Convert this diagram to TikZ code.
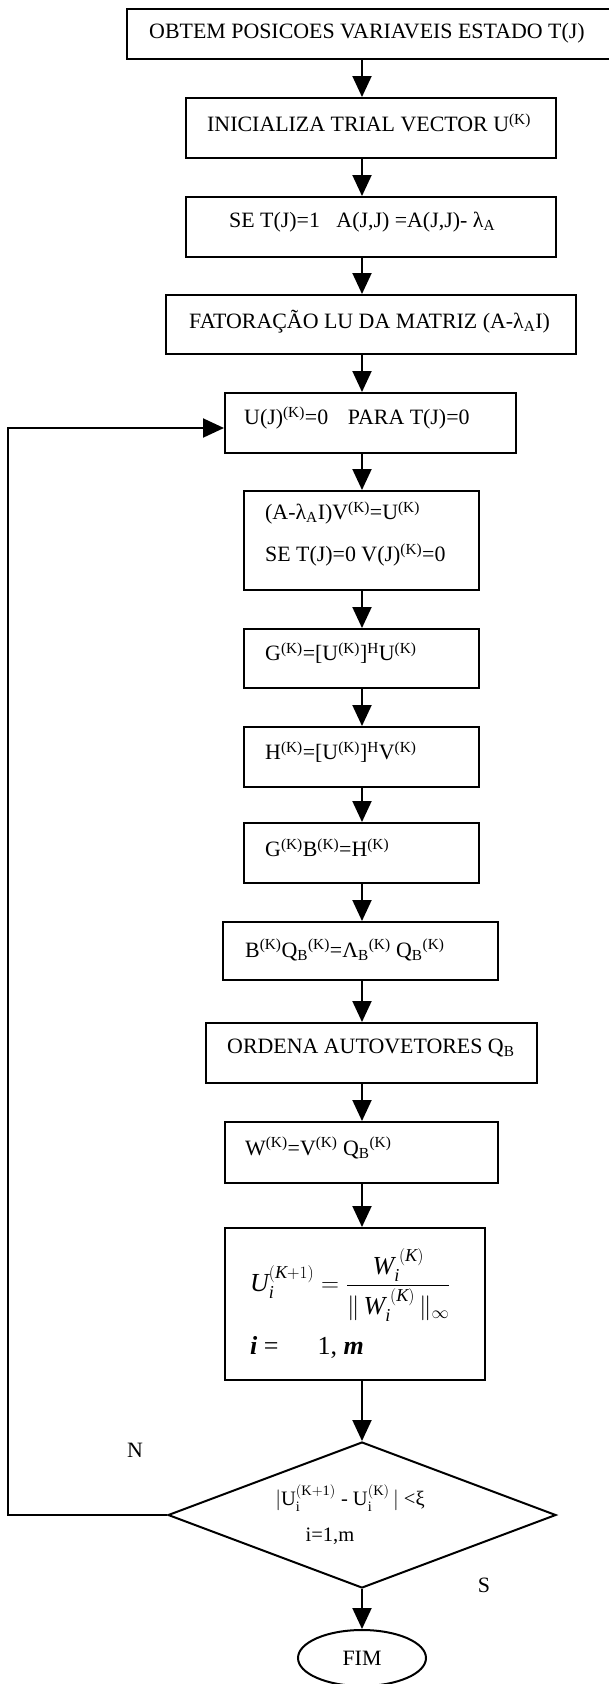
\documentclass[tikz,border=0pt]{standalone}
\usepackage{amsmath}
\usepackage{fontspec}
\setmainfont{Liberation Serif}
\usetikzlibrary{arrows.meta,shapes.geometric}
\newcommand{\Kp}{\textsuperscript{(K)}}
\begin{document}
\begin{tikzpicture}[x=1pt,y=-1pt,
  box/.style={draw,line width=2pt,rectangle,inner sep=0pt},
  lbl/.style={anchor=west,inner sep=0pt,font=\fontsize{21.9}{26}\selectfont},
  clbl/.style={inner sep=0pt,font=\fontsize{21.9}{26}\selectfont},
  arr/.style={line width=2pt,-{Triangle[length=21pt,width=19pt]}}]
\useasboundingbox (0,0) rectangle (609,1684);
\coordinate (ax) at (362,0);
% boxes
\node[box,minimum width=486pt,minimum height=50pt] (b1) at (370,34) {};
\node[box,minimum width=370pt,minimum height=60pt] (b2) at (371,128) {};
\node[box,minimum width=370pt,minimum height=60pt] (b3) at (371,227) {};
\node[box,minimum width=410pt,minimum height=59pt] (b4) at (371,324.5) {};
\node[box,minimum width=291pt,minimum height=60pt] (b5) at (370.5,423) {};
\node[box,minimum width=235pt,minimum height=99pt] (b6) at (361.5,540.5) {};
\node[box,minimum width=235pt,minimum height=59pt] (b7) at (361.5,658.5) {};
\node[box,minimum width=235pt,minimum height=60pt] (b8) at (361.5,757) {};
\node[box,minimum width=235pt,minimum height=60pt] (b9) at (361.5,853) {};
\node[box,minimum width=275pt,minimum height=58pt] (b10) at (360.5,951) {};
\node[box,minimum width=331pt,minimum height=60pt] (b11) at (371.5,1053) {};
\node[box,minimum width=273pt,minimum height=61pt] (b12) at (361.5,1152.5) {};
\node[box,minimum width=260pt,minimum height=152pt] (b13) at (355,1304) {};
\node[draw,line width=2pt,diamond,inner sep=0pt,minimum width=388pt,minimum height=146pt] (d) at (362,1515) {};
\node[draw,line width=2pt,ellipse,inner sep=0pt,minimum width=128pt,minimum height=56pt,font=\fontsize{21.9}{26}\selectfont] (fim) at (362,1658) {FIM};
% texts
\node[lbl] (t1) at (149,33) {OBTEM POSICOES VARIAVEIS ESTADO T(J)};
\node[lbl] (t2) at (207,123) {INICIALIZA TRIAL VECTOR U\Kp};
\node[lbl] (t3) at (229,222) {SE T(J)=1\ \ \ A(J,J) =A(J,J)- λ\textsubscript{A}};
\node[lbl] (t4) at (189,322) {FATORAÇÃO LU DA MATRIZ (A-λ\textsubscript{A}I)};
\node[lbl] (t5) at (244,418) {U(J)\Kp=0\hspace{0.9em}PARA T(J)=0};
\node[lbl] (t6a) at (265,513) {(A-λ\textsubscript{A}I)V\Kp=U\Kp};
\node[lbl] (t6b) at (265,555) {SE T(J)=0 V(J)\Kp=0};
\node[lbl] (t7) at (265,653) {G\Kp=[U\Kp]\textsuperscript{H}U\Kp};
\node[lbl] (t8) at (265,752) {H\Kp=[U\Kp]\textsuperscript{H}V\Kp};
\node[lbl] (t9) at (265,848) {G\Kp B\Kp=H\Kp};
\node[lbl] (t10) at (245,950) {B\Kp Q\textsubscript{B}\Kp=Λ\textsubscript{B}\Kp{} Q\textsubscript{B}\Kp};
\node[lbl] (t11) at (227,1048) {ORDENA AUTOVETORES Q\textsubscript{B}};
\node[lbl] (t12) at (245,1148) {W\Kp=V\Kp{} Q\textsubscript{B}\Kp};
\node[anchor=west,inner sep=0pt,font=\fontsize{26}{30}\selectfont] (t13a) at (250,1285)
  {$\textit{U}_{\textit{i}}^{(\textit{K}+1)}=\dfrac{\textit{W}_{\textit{i}}^{\;(\textit{K})}}{\|\,\textit{W}_{\textit{i}}^{\;(\textit{K})}\,\|_{\infty}}$};
\node[anchor=west,inner sep=0pt,font=\fontsize{26}{30}\selectfont] (t13b) at (250,1347)
  {\textbf{\textit{i}} =\hspace{1.5em}1, \textbf{\textit{m}}};
\node[inner sep=0pt,font=\fontsize{20.5}{24}\selectfont] (td1) at (350,1498)
  {$|\mathrm{U}_{\mathrm{i}}^{\mathrm{(K+1)}}\ \text{-}\ \mathrm{U}_{\mathrm{i}}^{\mathrm{(K)}}\,|\ \text{<ξ}$};
\node[inner sep=0pt,font=\fontsize{20.5}{24}\selectfont] (td2) at (330,1536) {i=1,m};
\node[clbl] (n) at (135,1450) {N};
\node[clbl] (s) at (484,1585) {S};
% arrows
\draw[arr] (b1.south -| ax) -- (b2.north -| ax);
\draw[arr] (b2.south -| ax) -- (b3.north -| ax);
\draw[arr] (b3.south -| ax) -- (b4.north -| ax);
\draw[arr] (b4.south -| ax) -- (b5.north -| ax);
\draw[arr] (b5.south -| ax) -- (b6.north -| ax);
\draw[arr] (b6.south -| ax) -- (b7.north -| ax);
\draw[arr] (b7.south -| ax) -- (b8.north -| ax);
\draw[arr] (b8.south -| ax) -- (b9.north -| ax);
\draw[arr] (b9.south -| ax) -- (b10.north -| ax);
\draw[arr] (b10.south -| ax) -- (b11.north -| ax);
\draw[arr] (b11.south -| ax) -- (b12.north -| ax);
\draw[arr] (b12.south -| ax) -- (b13.north -| ax);
\draw[arr] (b13.south -| ax) -- (d.north);
\draw[arr] (d.south) -- (fim.north);
\coordinate (lx) at (8,1515);
\draw[arr] (d.west) -- (lx) |- ([yshift=-5pt]b5.west);
\end{tikzpicture}
\end{document}
